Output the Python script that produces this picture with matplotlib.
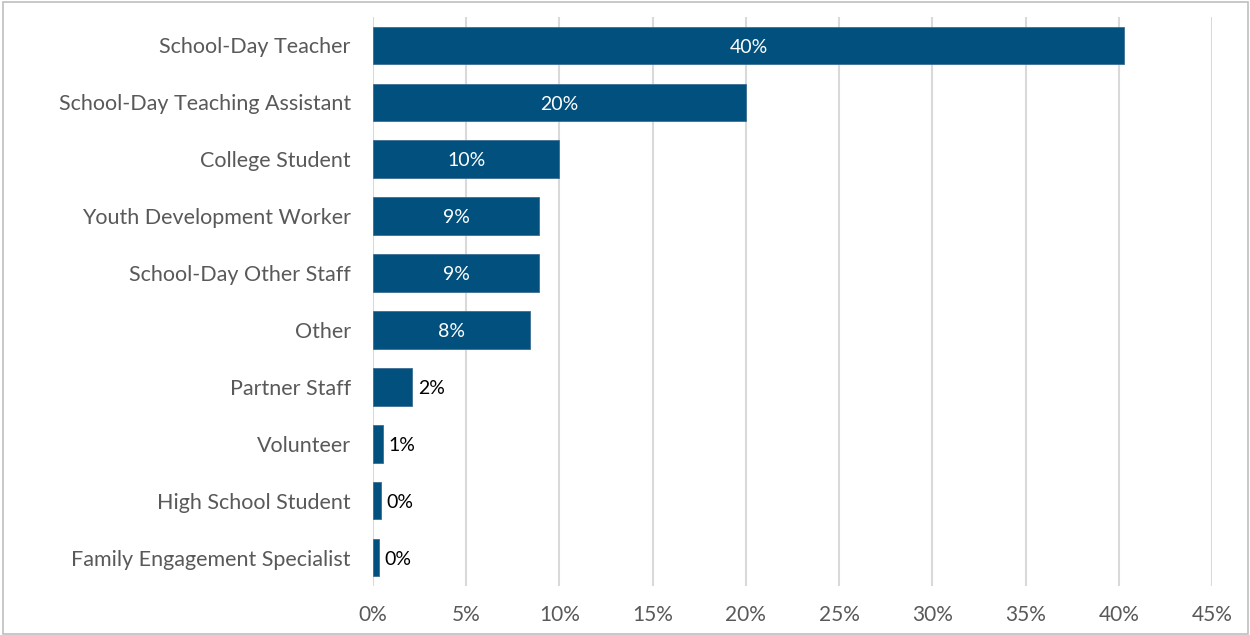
import numpy as np
import matplotlib.pyplot as plt
from matplotlib.ticker import MultipleLocator, FuncFormatter

roles = ["School-Day Teacher", "School-Day Teaching Assistant", "College Student",
         "Youth Development Worker", "School-Day Other Staff", "Other",
         "Partner Staff", "Volunteer", "High School Student",
         "Family Engagement Specialist"]
shares = [40.3, 20.0, 10.0, 8.9, 8.9, 8.4, 2.1, 0.55, 0.43, 0.32]

bar_color = "#02507E"
plt.rcParams['font.family'] = ['Lato', 'DejaVu Sans']

fig = plt.figure(figsize=(12.5, 6.35), dpi=100)
ax = fig.add_axes([0.2984, 0.0772, 0.6712, 0.896])

y = np.arange(len(roles))
ax.barh(y, shares, height=0.66, color=bar_color, edgecolor="#3d6f95", linewidth=0.6, zorder=3)

for yi, v in zip(y, shares):
    txt = f"{v:.0f}%"
    if v >= 5:
        ax.text(v / 2, yi + 0.03, txt, ha="center", va="center", color="white", fontsize=14, zorder=4)
    else:
        ax.text(v + 0.3, yi + 0.03, txt, ha="left", va="center", color="black", fontsize=14, zorder=4)

ax.set_xlim(0, 45)
ax.set_ylim(len(roles) - 0.5, -0.5)
ax.xaxis.set_major_locator(MultipleLocator(5))
ax.xaxis.set_major_formatter(FuncFormatter(lambda v, p: f"{v:.0f}%"))
ax.set_yticks(y)
ax.set_yticklabels(roles)
ax.tick_params(axis="y", length=0, pad=16, labelsize=15.5, labelcolor="#595959")
ax.tick_params(axis="x", length=0, pad=14, labelsize=15, labelcolor="#595959")
ax.grid(axis="x", color="#D9D9D9", linewidth=1.5, zorder=0)
for s in ax.spines.values():
    s.set_visible(False)

# light border around the whole figure
fig.patches.append(plt.Rectangle((0.002, 0.002), 0.996, 0.995, transform=fig.transFigure,
                                 fill=False, edgecolor="#BFBFBF", linewidth=1.2))

fig.savefig("out.png", dpi=100)
